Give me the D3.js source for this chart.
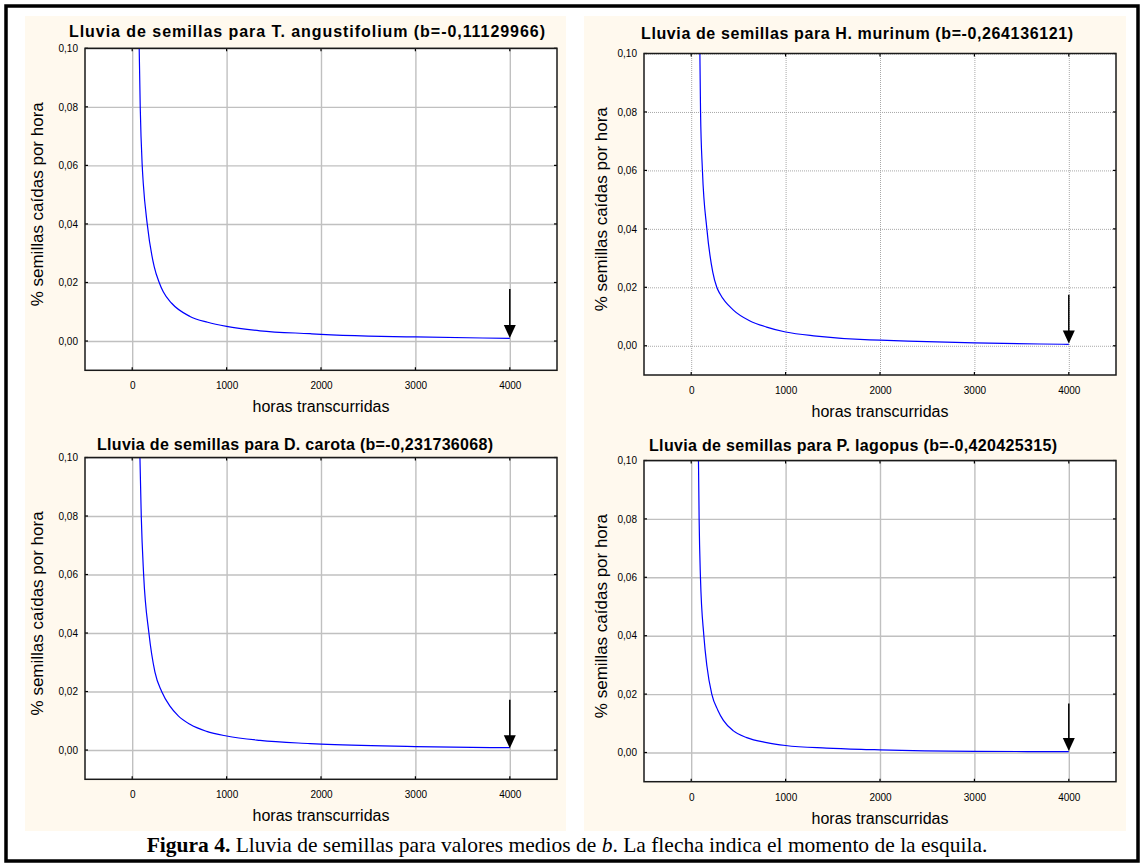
<!DOCTYPE html>
<html>
<head>
<meta charset="utf-8">
<script src="https://cdn.jsdelivr.net/npm/d3@7"></script>
<style>
  body { margin: 0; background: #fff; }
  text { font-family: "Liberation Sans", Arial, sans-serif; fill: #000; }
</style>
</head>
<body>
<svg id="fig" width="1141" height="866"></svg>
<script>
// --- data ---
const xTicks = [0, 1000, 2000, 3000, 4000];
const yTicks = [0, 0.02, 0.04, 0.06, 0.08, 0.10];

const titles = [
  "Lluvia de semillas  para T. angustifolium (b=-0,11129966)",
  "Lluvia de semillas  para H. murinum (b=-0,264136121)",
  "Lluvia de semillas para D. carota (b=-0,231736068)",
  "Lluvia de semillas para P. lagopus (b=-0,420425315)"
];

const hoursTA = [74, 85, 106, 117, 159, 233, 286, 329, 418, 612, 800, 1000, 1354, 1884, 2000, 2500, 3000, 4000];
const seedsTA = [0.100, 0.080, 0.060, 0.054, 0.040, 0.0254, 0.020, 0.0168, 0.0129, 0.0084, 0.0064, 0.0050, 0.0035, 0.0025, 0.0023, 0.0017, 0.0014, 0.0009];

const hoursHM = [92, 99, 119, 166, 229, 271, 306, 447, 623, 799, 1000, 1327, 1890, 2000, 3000, 3700, 4000];
const seedsHM = [0.100, 0.080, 0.060, 0.040, 0.0251, 0.020, 0.0177, 0.0122, 0.0085, 0.0064, 0.0047, 0.0033, 0.0020, 0.0019, 0.0010, 0.0006, 0.0005];

const hoursDC = [82, 96, 121, 177, 241, 312, 400, 488, 612, 788, 1000, 1354, 1884, 2000, 3000, 4000];
const seedsDC = [0.100, 0.080, 0.060, 0.040, 0.0266, 0.020, 0.0150, 0.0117, 0.0088, 0.0064, 0.0048, 0.0033, 0.0022, 0.0020, 0.0012, 0.0008];

const hoursPL = [77, 84, 98, 134, 166, 218, 282, 341, 447, 588, 799, 1000, 1433, 1890, 2000, 3000, 4000];
const seedsPL = [0.100, 0.080, 0.060, 0.040, 0.0297, 0.020, 0.0145, 0.0110, 0.0074, 0.0051, 0.0034, 0.0024, 0.0015, 0.0010, 0.0009, 0.0004, 0.0003];

// arrow (momento de la esquila): hour, top value, tip value
const arrowHour = 4000;
const arrowTop = [0.0178, 0.0175, 0.0172, 0.0168];
const arrowTip = [0.0010, 0.0008, 0.0006, 0.0005];

const series = [
  {hours: hoursTA, seeds: seedsTA},
  {hours: hoursHM, seeds: seedsHM},
  {hours: hoursDC, seeds: seedsDC},
  {hours: hoursPL, seeds: seedsPL}
];

// --- layout of the four panels ---
const panels = [
  {bg: [25, 16, 541, 409], l: 85, r: 557, t: 48.3, b: 370.3, tx: 307, ty: 37, tw: 476, yl: 37, dotted: false},
  {bg: [584, 16, 542, 409], l: 644, r: 1116, t: 53.5, b: 375, tx: 857, ty: 39, tw: 432, yl: 601, dotted: true},
  {bg: [25, 425, 541, 406], l: 85, r: 557, t: 457.5, b: 779.3, tx: 295, ty: 450, tw: 396, yl: 37, dotted: false},
  {bg: [584, 425, 542, 406], l: 644, r: 1116, t: 460.5, b: 781.7, tx: 853, ty: 451, tw: 408, yl: 601, dotted: false}
];

const svg = d3.select("#fig");
const fmtY = d => d.toFixed(2).replace(".", ",");

panels.forEach((p, i) => {
  const g = svg.append("g");
  const x = d3.scaleLinear().domain([-500, 4500]).range([p.l, p.r]);
  const y = d3.scaleLinear().domain([-0.01, 0.10]).range([p.b, p.t]);
  const h = p.b - p.t, w = p.r - p.l;

  g.append("rect")
    .attr("x", p.bg[0]).attr("y", p.bg[1])
    .attr("width", p.bg[2]).attr("height", p.bg[3])
    .attr("fill", "#fff9ee");

  g.append("rect")
    .attr("x", p.l).attr("y", p.t).attr("width", w).attr("height", h)
    .attr("fill", "#fff");

  // grid
  const gridX = g.append("g")
    .attr("transform", `translate(0,${p.b})`)
    .call(d3.axisBottom(x).tickValues(xTicks).tickSize(-h).tickFormat(""));
  const gridY = g.append("g")
    .attr("transform", `translate(${p.l},0)`)
    .call(d3.axisLeft(y).tickValues(yTicks).tickSize(-w).tickFormat(""));
  [gridX, gridY].forEach(a => {
    a.select(".domain").remove();
    a.selectAll("line")
      .attr("stroke", p.dotted ? "#a8a8a8" : "#c0c0c0")
      .attr("stroke-width", p.dotted ? 1 : 1.4)
      .attr("stroke-dasharray", p.dotted ? "1,1" : null);
  });

  // tick labels
  const ax = g.append("g")
    .attr("transform", `translate(0,${p.b})`)
    .call(d3.axisBottom(x).tickValues(xTicks).tickSize(0).tickPadding(12).tickFormat(d3.format("d")));
  const ay = g.append("g")
    .attr("transform", `translate(${p.l},0)`)
    .call(d3.axisLeft(y).tickValues(yTicks).tickSize(0).tickPadding(7).tickFormat(fmtY));
  [ax, ay].forEach(a => {
    a.select(".domain").remove();
    a.selectAll("text").attr("font-size", 10).attr("font-family", "'Liberation Sans', Arial, sans-serif").attr("fill", "#000");
  });

  // inner tick marks on the frame
  const tk = g.append("g").attr("stroke", "#000").attr("stroke-width", 1.2);
  xTicks.forEach(v => {
    tk.append("line").attr("x1", x(v)).attr("x2", x(v)).attr("y1", p.t).attr("y2", p.t + 3);
    tk.append("line").attr("x1", x(v)).attr("x2", x(v)).attr("y1", p.b).attr("y2", p.b - 3);
  });
  yTicks.forEach(v => {
    tk.append("line").attr("x1", p.l).attr("x2", p.l + 3).attr("y1", y(v)).attr("y2", y(v));
    tk.append("line").attr("x1", p.r).attr("x2", p.r - 3).attr("y1", y(v)).attr("y2", y(v));
  });

  // curve
  const clipId = "clip" + i;
  g.append("clipPath").attr("id", clipId)
    .append("rect").attr("x", p.l).attr("y", p.t).attr("width", w).attr("height", h);
  const s = series[i];
  const pts = s.hours.map((hr, k) => [hr, s.seeds[k]]);
  g.append("path")
    .datum(pts)
    .attr("clip-path", `url(#${clipId})`)
    .attr("fill", "none")
    .attr("stroke", "#0000ff")
    .attr("stroke-width", 1.2)
    .attr("d", d3.line().x(d => x(d[0])).y(d => y(d[1])).curve(d3.curveMonotoneX));

  // arrow
  const ax0 = x(arrowHour), yTip = y(arrowTip[i]), yHead = yTip - 13;
  g.append("line")
    .attr("x1", ax0).attr("x2", ax0)
    .attr("y1", y(arrowTop[i])).attr("y2", yHead + 2)
    .attr("stroke", "#000").attr("stroke-width", 1.5);
  g.append("path")
    .attr("d", `M${ax0 - 6},${yHead}L${ax0 + 6},${yHead}L${ax0},${yTip}Z`)
    .attr("fill", "#000");

  // frame
  g.append("rect")
    .attr("x", p.l).attr("y", p.t).attr("width", w).attr("height", h)
    .attr("fill", "none").attr("stroke", "#1a1a1a").attr("stroke-width", 1.5);

  // titles
  g.append("text")
    .attr("x", p.tx).attr("y", p.ty)
    .attr("text-anchor", "middle")
    .attr("font-size", 16).attr("font-weight", "bold")
    .attr("textLength", p.tw).attr("lengthAdjust", "spacing")
    .text(titles[i]);

  g.append("text")
    .attr("x", (p.l + p.r) / 2).attr("y", p.b + 42)
    .attr("text-anchor", "middle")
    .attr("font-size", 16)
    .text("horas transcurridas");

  g.append("text")
    .attr("transform", `translate(${p.yl + 6},${(p.t + p.b) / 2 - 5}) rotate(-90)`)
    .attr("text-anchor", "middle")
    .attr("font-size", 17)
    .text("% semillas caídas por hora");
});

// outer border
svg.append("rect")
  .attr("x", 6).attr("y", 6).attr("width", 1132).attr("height", 855)
  .attr("fill", "none").attr("stroke", "#000").attr("stroke-width", 3.5);

// caption
const cap = svg.append("text")
  .attr("x", 567).attr("y", 852)
  .attr("text-anchor", "middle")
  .attr("font-size", 21.5)
  .style("font-family", "'Liberation Serif', 'Times New Roman', serif");
cap.append("tspan").attr("font-weight", "bold").text("Figura 4.");
cap.append("tspan").text(" Lluvia de semillas para valores medios de ");
cap.append("tspan").attr("font-style", "italic").text("b");
cap.append("tspan").text(". La flecha indica el momento de la esquila.");
</script>
</body>
</html>
